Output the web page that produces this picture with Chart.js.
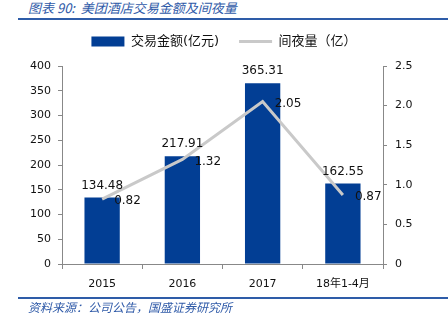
<!DOCTYPE html>
<html>
<head>
<meta charset="utf-8">
<script src="https://cdn.jsdelivr.net/npm/chart.js@4"></script>
<style>
  body { margin: 0; background: #fff; }
  #wrap { position: relative; width: 448px; height: 329px; overflow: hidden; }
  #chart { position: absolute; left: 0; top: 0; }
  .cap { position: absolute; left: 28px; font-family: "Noto Sans CJK SC", sans-serif; font-style: italic; color: #2f5aa8; white-space: nowrap; }
  .rule { position: absolute; left: 18px; right: 0; height: 2px; background: #2e5ca8; }
</style>
</head>
<body>
<div id="wrap">
  <div class="cap" style="top:-2px; font-size:13px;">图表 90:&nbsp; 美团酒店交易金额及间夜量</div>
  <div class="rule" style="top:18px;"></div>
  <canvas id="chart" width="448" height="329"></canvas>
  <div class="rule" style="top:297px;"></div>
  <div class="cap" style="top:298px; font-size:12px;">资料来源：公司公告，国盛证券研究所</div>
</div>
<script>
// 数据
const periodos = ["2015", "2016", "2017", "18年1-4月"];
const montoTransacciones = [134.48, 217.91, 365.31, 162.55];
const nochesHotel = [0.82, 1.32, 2.05, 0.87];

const azul = "#023e94";
const gris = "#c9c9c9";
const fuente = "'DejaVu Sans', 'Noto Sans CJK SC', sans-serif";

// etiquetas de valores
const etiquetas = {
    id: "etiquetas",
    beforeLayout(chart) {
        // espacio extra debajo de la leyenda
        const lg = chart.legend;
        if (lg && !lg._ajustada) {
            const fit = lg.fit;
            lg.fit = function () { fit.call(this); this.height += 8; };
            lg._ajustada = true;
        }
    },
    afterDatasetsDraw(chart) {
        const ctx = chart.ctx;
        ctx.save();
        ctx.font = "12px " + fuente;
        ctx.fillStyle = "#111";
        chart.getDatasetMeta(0).data.forEach((bar, i) => {
            ctx.textAlign = "center";
            ctx.textBaseline = "bottom";
            ctx.fillText(montoTransacciones[i].toFixed(2), bar.x, bar.y - 6);
        });
        chart.getDatasetMeta(1).data.forEach((pt, i) => {
            ctx.textAlign = "left";
            ctx.textBaseline = "middle";
            ctx.fillText(nochesHotel[i].toFixed(2), pt.x + 12, pt.y + 2);
        });
        ctx.restore();
    }
};

new Chart("chart", {
    type: "bar",
    data: {
        labels: periodos,
        datasets: [
            {
                label: "交易金额(亿元)",
                data: montoTransacciones,
                backgroundColor: azul,
                borderWidth: 0,
                barPercentage: 0.88,
                categoryPercentage: 0.5,
                yAxisID: "y",
                order: 2,
                pointStyle: "rect"
            },
            {
                type: "line",
                label: "间夜量（亿）",
                data: nochesHotel,
                borderColor: gris,
                backgroundColor: gris,
                borderWidth: 3,
                pointRadius: 0,
                tension: 0,
                yAxisID: "y1",
                order: 1,
                pointStyle: "line"
            }
        ]
    },
    options: {
        responsive: false,
        animation: false,
        layout: { padding: { top: 15, bottom: 35, left: 0, right: 0 } },
        plugins: {
            legend: {
                position: "top",
                labels: {
                    usePointStyle: true,
                    pointStyleWidth: 33,
                    boxHeight: 10,
                    padding: 20,
                    color: "#111",
                    font: { family: fuente, size: 13 },
                    sort: (a, b) => a.datasetIndex - b.datasetIndex
                }
            },
            tooltip: { enabled: false }
        },
        scales: {
            x: {
                afterFit(s) { s.height = 30; },
                grid: { drawOnChartArea: false, tickLength: 5, color: "#888" },
                border: { color: "#888" },
                ticks: { color: "#111", font: { family: fuente, size: 11 }, padding: 9 }
            },
            y: {
                position: "left",
                min: 0, max: 400,
                afterFit(s) { s.width = 62; },
                grid: { drawOnChartArea: false, tickLength: 4, color: "#888" },
                border: { color: "#888" },
                ticks: { stepSize: 50, color: "#111", font: { family: fuente, size: 11 }, padding: 7 }
            },
            y1: {
                position: "right",
                min: 0, max: 2.5,
                afterFit(s) { s.width = 65; },
                grid: { drawOnChartArea: false, tickLength: 4, color: "#888" },
                border: { color: "#888" },
                ticks: { stepSize: 0.5, color: "#111", font: { family: fuente, size: 11 }, padding: 8 }
            }
        }
    },
    plugins: [etiquetas]
});
</script>
</body>
</html>
